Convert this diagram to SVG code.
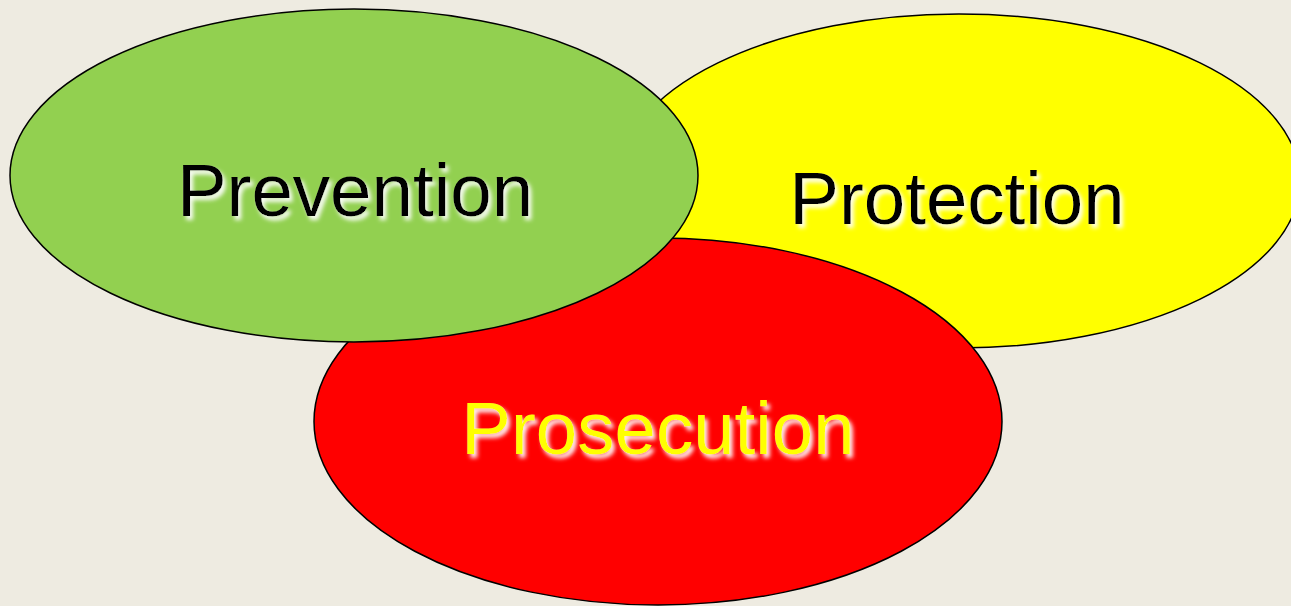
<svg xmlns="http://www.w3.org/2000/svg" width="1291" height="606" viewBox="0 0 1291 606">
<defs>
<filter id="glow" x="-10%" y="-30%" width="120%" height="160%">
<feGaussianBlur in="SourceAlpha" stdDeviation="2"/>
<feOffset dx="3" dy="4" result="b"/>
<feFlood flood-color="#ffffff" flood-opacity="0.95"/>
<feComposite in2="b" operator="in" result="s"/>
<feMerge><feMergeNode in="s"/><feMergeNode in="SourceGraphic"/></feMerge>
</filter>
</defs>
<style>
.shape{stroke:#000;stroke-width:1.5}
.lbl{font-family:"Liberation Sans",Arial,sans-serif;font-size:74.5px;text-anchor:middle;filter:url(#glow)}
</style>
<rect width="1291" height="606" fill="#eeebe1"/>
<g id="protection">
<ellipse class="shape" cx="959" cy="181" rx="341" ry="167" fill="#ffff00"/>
</g>
<g id="prosecution">
<ellipse class="shape" cx="658" cy="421.5" rx="344" ry="183.5" fill="#ff0000"/>
</g>
<g id="prevention">
<ellipse class="shape" cx="354" cy="175.5" rx="344" ry="166.5" fill="#92d050"/>
</g>
<g id="connectors"></g>
<g id="labels">
<text class="lbl" x="355" y="216" fill="#000">Prevention</text>
<text class="lbl" x="957" y="224" fill="#000">Protection</text>
<text class="lbl" x="658" y="454" fill="#ffff00">Prosecution</text>
</g>
</svg>
